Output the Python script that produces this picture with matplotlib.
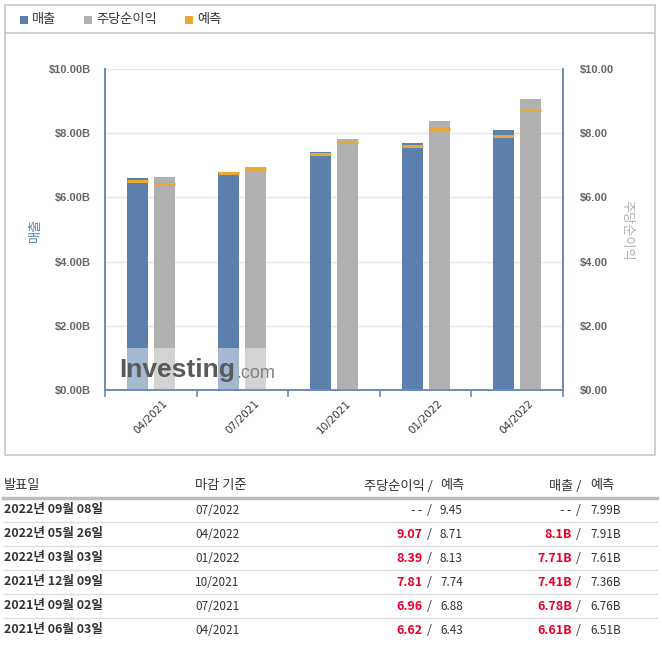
import matplotlib
matplotlib.use("Agg")
import matplotlib.pyplot as plt
from matplotlib.patches import Rectangle
from matplotlib.lines import Line2D
import numpy as np

plt.rcParams['font.family'] = ['Noto Sans CJK KR', 'DejaVu Sans']

# chart data
periods = ["04/2021", "07/2021", "10/2021", "01/2022", "04/2022"]
revenue = [6.61, 6.78, 7.41, 7.71, 8.10]          # billions
revenue_fc = [6.51, 6.76, 7.36, 7.61, 7.91]
eps = [6.62, 6.96, 7.81, 8.39, 9.07]
eps_fc = [6.43, 6.88, 7.74, 8.13, 8.71]

# table data
t_dates = ["2022년 09월 08일", "2022년 05월 26일", "2022년 03월 03일",
           "2021년 12월 09일", "2021년 09월 02일", "2021년 06월 03일"]
t_period = ["07/2022", "04/2022", "01/2022", "10/2021", "07/2021", "04/2021"]
t_eps = ["--", "9.07", "8.39", "7.81", "6.96", "6.62"]
t_eps_fc = ["9.45", "8.71", "8.13", "7.74", "6.88", "6.43"]
t_rev = ["--", "8.1B", "7.71B", "7.41B", "6.78B", "6.61B"]
t_rev_fc = ["7.99B", "7.91B", "7.61B", "7.36B", "6.76B", "6.51B"]

BLUE = '#5B80AC'
GRAY = '#B0B0B0'
ORANGE = '#E8A838'
AXIS = '#6A8CB8'
TXT = '#333333'
RED = '#E8002A'
LAT = ['Liberation Sans', 'DejaVu Sans']

W, H = 662, 647
fig = plt.figure(figsize=(W / 100, H / 100), dpi=100)


def fx(px):
    return px / W


def fy(py):
    return 1 - py / H


# outer frame and legend separator
fig.patches.append(Rectangle((fx(5), fy(455)), fx(650), 450 / H, transform=fig.transFigure,
                             fill=False, edgecolor='#C8C8C8', linewidth=1.2))
fig.lines.append(Line2D([fx(5), fx(655)], [fy(33), fy(33)], transform=fig.transFigure,
                        color='#C8C8C8', linewidth=1.2))

# legend
for lx, col, lab in [(20, BLUE, '매출'), (84, GRAY, '주당순이익'), (185, ORANGE, '예측')]:
    fig.patches.append(Rectangle((fx(lx), fy(23.5)), fx(8), 8 / H, transform=fig.transFigure,
                                 facecolor=col, edgecolor='none'))
    fig.text(fx(lx + 12), fy(19), lab, fontsize=9.5, color=TXT, va='center', ha='left')

# main axes
ax = fig.add_axes([fx(105), fy(390), fx(563 - 105), (390 - 69) / H])
ax2 = ax.twinx()

x = np.arange(len(periods))
bw = 0.23
off = 0.147
ax.bar(x - off, revenue, bw, color=BLUE, zorder=2)
ax.hlines(revenue_fc, x - off - bw / 2, x - off + bw / 2, color=ORANGE, linewidth=2.2, zorder=3)
ax2.bar(x + off, eps, bw, color=GRAY, zorder=2)
ax2.hlines(eps_fc, x + off - bw / 2, x + off + bw / 2, color=ORANGE, linewidth=2.2, zorder=3)

for a in (ax, ax2):
    a.set_ylim(0, 10)
    a.set_xlim(-0.5, len(periods) - 0.5)
    a.spines['top'].set_visible(False)
    for s in ('left', 'right', 'bottom'):
        a.spines[s].set_color(AXIS)
        a.spines[s].set_linewidth(1.2)

yt = np.arange(0, 11, 2)
ax.set_yticks(yt)
ax.set_yticklabels([f"${v:.2f}B" for v in yt], fontsize=8, color='#666666',
                   family=LAT, fontweight='bold')
ax2.set_yticks(yt)
ax2.set_yticklabels([f"${v:.2f}" for v in yt], fontsize=8, color='#666666',
                    family=LAT, fontweight='bold')
ax.tick_params(axis='y', length=0, pad=10)
ax2.tick_params(axis='y', length=0, pad=12)
ax.yaxis.grid(True, color='#E6E6E6', linewidth=1, zorder=0)
ax.set_axisbelow(True)

ax.set_xticks(np.arange(-0.5, len(periods)))
ax.set_xticklabels([])
ax.tick_params(axis='x', length=5, color=AXIS, width=1.2)
for i, p in enumerate(periods):
    ax.text(i, -0.25, p, rotation=45, ha='center', va='top', fontsize=7.5,
            color=TXT, family=['DejaVu Sans'], clip_on=False)

fig.text(fx(35), fy(230), '매출', rotation=90, color=BLUE, fontsize=9.5, ha='center', va='center')
fig.text(fx(627), fy(230), '주당순이익', rotation=-90, color='#B0B0B0', fontsize=9.5,
         ha='center', va='center')

# watermark
ax2.add_patch(Rectangle((fx(120), fy(389)), fx(160), 41 / H, transform=fig.transFigure,
                        facecolor='white', alpha=0.45, edgecolor='none', zorder=5))
fig.text(fx(119), fy(370), 'Investing', fontsize=19, fontweight='bold', color='#5A5A5A',
         ha='left', va='center', family=LAT, zorder=6)
fig.text(fx(236), fy(373), '.com', fontsize=13, color='#808080',
         ha='left', va='center', family=LAT, zorder=6)

# table
hy = 486
fig.text(fx(4), fy(hy), '발표일', fontsize=9.5, color=TXT, va='center', ha='left')
fig.text(fx(195), fy(hy), '마감 기준', fontsize=9.5, color=TXT, va='center', ha='left')
fig.text(fx(433), fy(hy), '주당순이익 /', fontsize=9.5, color=TXT, va='center', ha='right')
fig.text(fx(440), fy(hy), '예측', fontsize=9.5, color=TXT, va='center', ha='left')
fig.text(fx(581), fy(hy), '매출 /', fontsize=9.5, color=TXT, va='center', ha='right')
fig.text(fx(590), fy(hy), '예측', fontsize=9.5, color=TXT, va='center', ha='left')
fig.lines.append(Line2D([fx(3), fx(657)], [fy(498), fy(498)], transform=fig.transFigure,
                        color='#BDBDBD', linewidth=2.5))


def show(v):
    # put a little gap between the two dashes of a missing value
    return v.replace('--', '-\u2009-')


for i in range(len(t_dates)):
    ry = 510 + 24 * i
    fig.text(fx(4), fy(ry), t_dates[i], fontsize=9, color=TXT, fontweight='bold',
             va='center', ha='left')
    fig.text(fx(195), fy(ry), t_period[i], fontsize=8.5, color=TXT, va='center', ha='left')
    hit = t_eps[i] != '--'
    fig.text(fx(423), fy(ry), show(t_eps[i]), fontsize=9, color=RED if hit else TXT,
             fontweight='bold' if hit else 'normal', va='center', ha='right',
             family=None if hit else ['DejaVu Sans'])
    fig.text(fx(427), fy(ry), '/', fontsize=9, color=TXT, va='center', ha='left')
    fig.text(fx(440), fy(ry), t_eps_fc[i], fontsize=8.5, color=TXT, va='center', ha='left')
    fig.text(fx(572), fy(ry), show(t_rev[i]), fontsize=9, color=RED if hit else TXT,
             fontweight='bold' if hit else 'normal', va='center', ha='right',
             family=None if hit else ['DejaVu Sans'])
    fig.text(fx(576), fy(ry), '/', fontsize=9, color=TXT, va='center', ha='left')
    fig.text(fx(590), fy(ry), t_rev_fc[i], fontsize=8.5, color=TXT, va='center', ha='left')
    if i < len(t_dates) - 1:
        fig.lines.append(Line2D([fx(3), fx(657)], [fy(ry + 12), fy(ry + 12)],
                                transform=fig.transFigure, color='#DDDDDD', linewidth=1))

fig.savefig('out.png', dpi=100)
